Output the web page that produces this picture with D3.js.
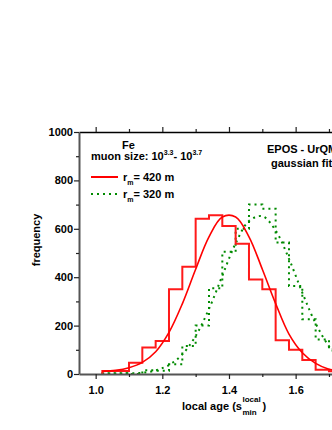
<!DOCTYPE html>
<html>
<head>
<meta charset="utf-8">
<script src="https://cdn.jsdelivr.net/npm/d3@7"></script>
<style>
  body { margin: 0; background: #fff; }
  svg { display: block; }
  text { font-family: "Liberation Sans", Arial, sans-serif; font-weight: bold; fill: #000; }
</style>
</head>
<body>
<svg id="chart" width="332" height="430"></svg>
<script>
// histogram bins (left edges, width 0.04)
const binStarts = [1.02, 1.06, 1.10, 1.14, 1.18, 1.22, 1.26, 1.30, 1.34, 1.38, 1.42, 1.46, 1.50, 1.54, 1.58, 1.62, 1.66, 1.70, 1.74]
const binWidth = 0.04
const counts420 = [12, 12, 47, 109, 136, 350, 443, 642, 656, 612, 538, 391, 350, 139, 100, 58, 18, 11, 5]
const counts320 = [3, 3, 0, 15, 13, 40, 116, 200, 354, 505, 600, 700, 683, 543, 364, 226, 143, 102, 60]

// gaussian fit curves
const fitX = [1.02, 1.06, 1.10, 1.14, 1.18, 1.22, 1.26, 1.30, 1.34, 1.38, 1.42, 1.46, 1.50, 1.54, 1.58, 1.62, 1.66, 1.70, 1.74, 1.78, 1.82]
const fit420 = [11, 15, 26, 48, 92, 172, 290, 433, 567, 649, 649, 567, 433, 291, 165, 88, 44, 20, 12, 10, 9]
const fit320 = [1, 2, 3, 5, 15, 37, 81, 157, 269, 406, 540, 632, 652, 593, 476, 336, 209, 115, 55, 24, 9]

const xTicks = [1.0, 1.2, 1.4, 1.6]
const yTicks = [0, 200, 400, 600, 800, 1000]

const svg = d3.select("#chart")
const x = d3.scaleLinear().domain([0.95, 1.8]).range([79, 362.3])
const y = d3.scaleLinear().domain([0, 1000]).range([374, 132])

svg.append('defs').append('clipPath').attr('id', 'plotClip')
  .append('rect').attr('x', 79).attr('y', 120).attr('width', 300).attr('height', 255)

const plot = svg.append('g').attr('clip-path', 'url(#plotClip)')

function histPoints(counts){
  const pts = [[binStarts[0], 0]]
  counts.forEach((c, i) => pts.push([binStarts[i], c]))
  const last = binStarts[binStarts.length - 1] + binWidth
  pts.push([last, counts[counts.length - 1]])
  return pts
}

const stepLine = d3.line().x(d => x(d[0])).y(d => y(d[1])).curve(d3.curveStepAfter)
const fitLine = d3.line().x(d => x(d[0])).y(d => y(d[1])).curve(d3.curveCatmullRom)

//green r_m = 320 m (dotted)
plot.append('path')
  .attr('d', stepLine(histPoints(counts320)))
  .attr('fill', 'none').attr('stroke', '#008a00').attr('stroke-width', 2)
  .attr('stroke-dasharray', '2,4')
plot.append('path')
  .attr('d', fitLine(fitX.map((v, i) => [v, fit320[i]])))
  .attr('fill', 'none').attr('stroke', '#008a00').attr('stroke-width', 2)
  .attr('stroke-dasharray', '2,4')

//red r_m = 420 m
plot.append('path')
  .attr('d', stepLine(histPoints(counts420)))
  .attr('fill', 'none').attr('stroke', '#ff1a1a').attr('stroke-width', 2)
plot.append('path')
  .attr('d', fitLine(fitX.map((v, i) => [v, fit420[i]])))
  .attr('fill', 'none').attr('stroke', '#ff0000').attr('stroke-width', 1.6)

// axes
const xMinor = d3.range(10, 18).map(v => v / 10).filter(v => !xTicks.some(t => Math.abs(t - v) < 1e-6))
const yMinor = [100, 300, 500, 700, 900]

const bottomAxis = svg.append('g').attr('transform', `translate(0,${y(0)})`)
  .call(d3.axisBottom(x).tickValues(xTicks).tickFormat(d3.format('.1f')).tickSize(5).tickSizeOuter(0))
bottomAxis.append('g').call(d3.axisBottom(x).tickValues(xMinor).tickFormat('').tickSize(3).tickSizeOuter(0))
  .select('.domain').remove()

const topAxis = svg.append('g').attr('transform', `translate(0,${y(1000)})`)
  .call(d3.axisTop(x).tickValues(xTicks).tickFormat('').tickSize(5).tickSizeOuter(0))
topAxis.append('g').call(d3.axisTop(x).tickValues(xMinor).tickFormat('').tickSize(3).tickSizeOuter(0))
  .select('.domain').remove()

const leftAxis = svg.append('g').attr('transform', `translate(${x(0.95)},0)`)
  .call(d3.axisLeft(y).tickValues(yTicks).tickFormat(d3.format('d')).tickSize(5).tickSizeOuter(0))
leftAxis.append('g').call(d3.axisLeft(y).tickValues(yMinor).tickFormat('').tickSize(3).tickSizeOuter(0))
  .select('.domain').remove()

svg.selectAll('.domain').attr('stroke', '#555').attr('stroke-width', 2)
topAxis.select('.domain').attr('stroke', '#000').attr('stroke-width', 1.6)
svg.selectAll('.tick line').attr('stroke', '#222').attr('stroke-width', 1.2)
svg.selectAll('.tick text').attr('font-size', 11).attr('font-weight', 'bold')
  .attr('font-family', '"Liberation Sans", Arial, sans-serif').attr('fill', '#000')
bottomAxis.selectAll('.tick text').attr('dy', '1.05em')
leftAxis.selectAll('.tick text').attr('x', -6)

// axis titles
svg.append('text')
  .attr('transform', 'translate(40,240) rotate(-90)')
  .attr('text-anchor', 'middle').attr('font-size', 11)
  .text('frequency')

const xt = svg.append('text').attr('x', 182).attr('y', 410).attr('font-size', 11).text('local age (s')
const xtEnd = 182 + xt.node().getComputedTextLength()
svg.append('text').attr('x', xtEnd + 0.5).attr('y', 402).attr('font-size', 8).text('local')
svg.append('text').attr('x', xtEnd + 0.5).attr('y', 415).attr('font-size', 8).text('min')
svg.append('text').attr('x', xtEnd + 20.5).attr('y', 410).attr('font-size', 11).text(')')

// legend
svg.append('text').attr('x', 122).attr('y', 149).attr('font-size', 11).text('Fe')
const muon = svg.append('text').attr('x', 91).attr('y', 160).attr('font-size', 11)
muon.append('tspan').text('muon size: 10')
muon.append('tspan').attr('font-size', 7).attr('dy', -5).text('3.3')
muon.append('tspan').attr('dy', 5).text('- 10')
muon.append('tspan').attr('font-size', 7).attr('dy', -5).text('3.7')

const legendRows = [
  {label: '= 420 m', color: '#ff0000', dash: null, yPos: 177},
  {label: '= 320 m', color: '#008a00', dash: '2,4', yPos: 194}
]
legendRows.forEach(row => {
  svg.append('line')
    .attr('x1', 91).attr('x2', 118).attr('y1', row.yPos).attr('y2', row.yPos)
    .attr('stroke', row.color).attr('stroke-width', 2)
    .attr('stroke-dasharray', row.dash)
  const t = svg.append('text').attr('x', 123).attr('y', row.yPos + 4).attr('font-size', 11)
  t.append('tspan').text('r')
  t.append('tspan').attr('font-size', 7).attr('dy', 4).text('m')
  t.append('tspan').attr('dy', -4).text(row.label)
})

// the reference image is cropped on the right, so these run off the edge there too
svg.append('text').attr('x', 267).attr('y', 153).attr('font-size', 11).text('EPOS - UrQMD')
svg.append('text').attr('x', 271).attr('y', 167).attr('font-size', 11).text('gaussian fits')
</script>
</body>
</html>
